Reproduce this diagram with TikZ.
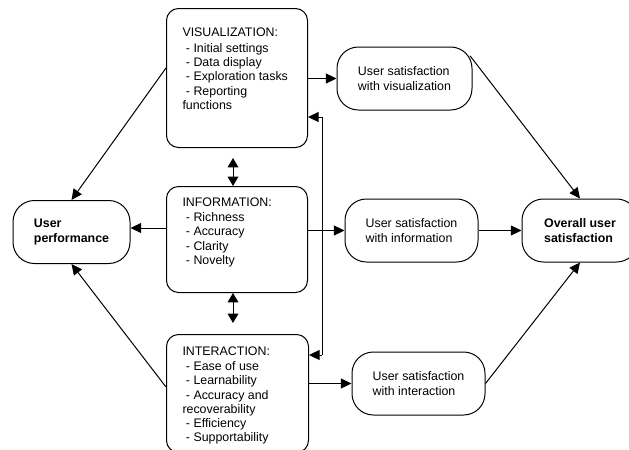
\documentclass[tikz,border=0pt]{standalone}
\usepackage{fontspec}
\setmainfont{Liberation Sans}
\usetikzlibrary{arrows.meta}

\tikzset{every picture/.style={line width=0.75pt}}
\tikzset{
  every node/.style={font=\fontsize{9.3}{10.7}\selectfont},
  bigbox/.style={draw, rounded corners=9pt, anchor=north west, inner sep=0pt},
  pill/.style={draw, rounded corners=16pt, align=left, inner sep=0pt, minimum height=47.25pt},
  listtext/.style={anchor=north west, inner sep=0pt, align=left},
  arr/.style={-{Triangle[length=8pt,width=7.5pt]}},
  dblarr/.style={{Triangle[length=7pt,width=8pt]}-{Triangle[length=7pt,width=8pt]}},
}

\begin{document}
\begin{tikzpicture}[x=0.75pt,y=0.75pt,yscale=-1,xscale=1]
\useasboundingbox (0,0) rectangle (629,450);

%Boxes
\node [bigbox, minimum width=105.75pt, minimum height=104.25pt] (vis) at (166,8) {};
\node [bigbox, minimum width=105.75pt, minimum height=79.5pt] (info) at (166,186) {};
\node [bigbox, minimum width=106.5pt, minimum height=88.5pt] (inter) at (166,334) {};

% Text Node
\node [listtext] (vistext) at (182,27) {VISUALIZATION:\\[1.5pt]\ - Initial settings\\\ - Data display\\\ - Exploration tasks\\\ - Reporting\\functions};
% Text Node
\node [listtext] (infotext) at (182,197.5) {INFORMATION:\\[0.5pt]\ - Richness\\\ - Accuracy\\\ - Clarity\\\ - Novelty};
% Text Node
\node [listtext] (intertext) at (182,346.5) {INTERACTION:\\[0.5pt]\ - Ease of use\\\ - Learnability\\\ - Accuracy and\\recoverability\\\ - Efficiency\\\ - Supportability};

%Rounded ends
\node [pill, minimum width=87.75pt, font=\fontsize{9.3}{10.7}\selectfont\bfseries] (perf) at (71.5,232) {User\\performance};
\node [pill, minimum width=101.25pt] (usvis) at (404.5,78.5) {User satisfaction\\with visualization};
\node [pill, minimum width=99.75pt] (usinfo) at (411.5,230.5) {User satisfaction\\with information};
\node [pill, minimum width=99.75pt] (usinter) at (418.5,383.5) {User satisfaction\\with interaction};
\node [pill, minimum width=87pt, font=\fontsize{9.3}{10.7}\selectfont\bfseries] (overall) at (580,230.5) {Overall user\\satisfaction};

%Arrows to satisfaction
\draw [arr] (vis.east |- usvis.west) -- (usvis.west);
\draw [arr] (info.east |- usinfo.west) -- (usinfo.west);
\draw [arr] (inter.east |- usinter.west) -- (usinter.west);
\draw [arr] (usinfo.east) -- (overall.west);
\draw [arr, shorten <=-3pt] (usvis.16) -- (overall.north);
\draw [arr] (usinter.east) -- (overall.south);

%Arrows to performance
\draw [arr] (vis.west |- 0,68) -- (perf.north);
\draw [arr] (info.west |- 0,228) -- (perf.east |- 0,228);
\draw [arr] (inter.west |- 0,387) -- (perf.south);

%Between the boxes
\draw [dblarr] (vis.south -| 233,0) ++(0,10) -- (info.north -| 233,0);
\draw [dblarr] (info.south -| 233,0) -- ++(0,30);

%Feedback
\coordinate (fbtop) at (322,117);
\coordinate (fbbot) at (322,355);
\draw (fbtop) -- (fbbot);
\draw [arr] (fbtop) -- (fbtop -| vis.east);
\draw [arr] (fbbot) -- (fbbot -| inter.east);

\end{tikzpicture}
\end{document}
